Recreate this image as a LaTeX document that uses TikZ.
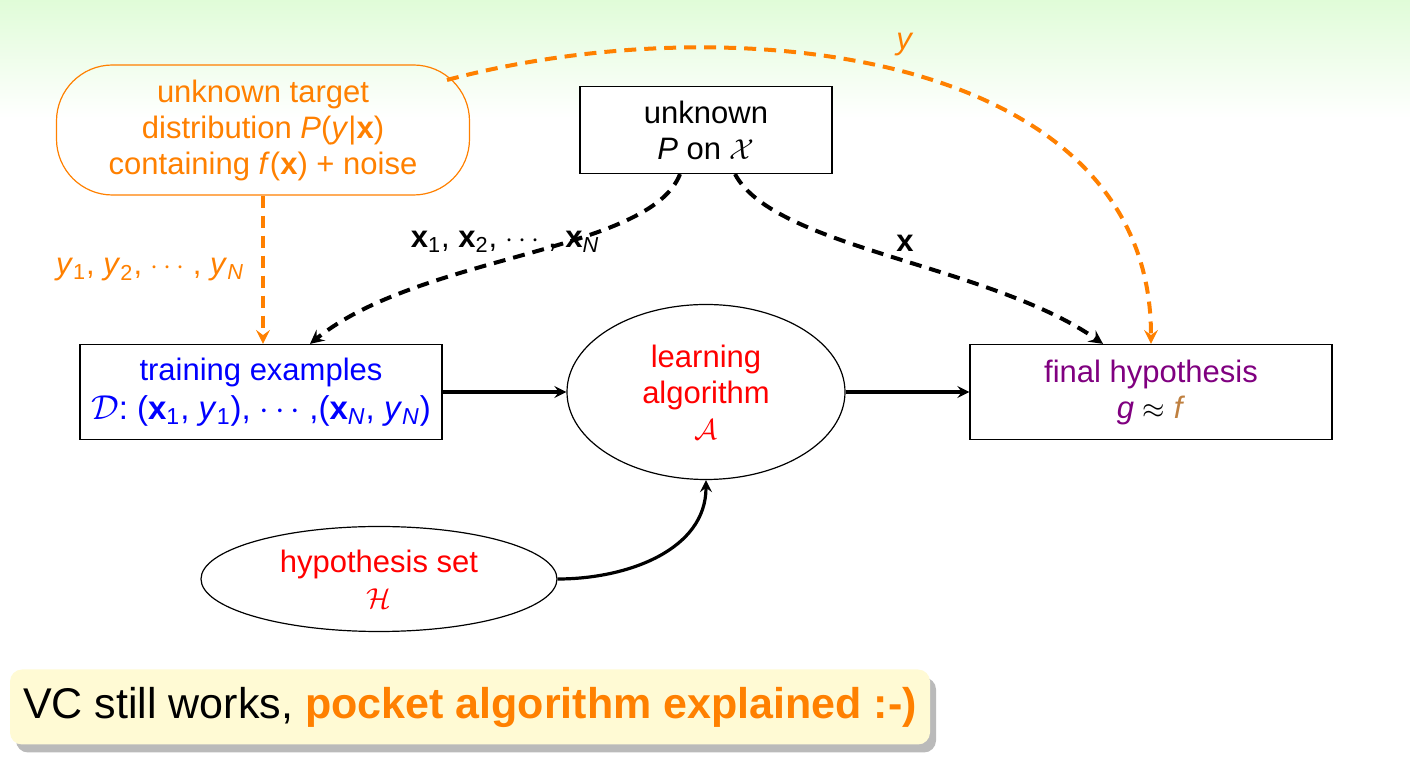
\documentclass[tikz,border=0pt]{standalone}
\usepackage{fontspec}
\setmainfont{Liberation Sans}
\usetikzlibrary{shapes.geometric,shadows}

\definecolor{topgreen}{RGB}{224,252,216}
\definecolor{notebg}{RGB}{255,250,212}

\newcommand{\vx}{\textbf{x}}
\newcommand{\vy}{\textit{y}}
\newcommand{\idx}[1]{\textsubscript{#1}}

\tikzstyle{box} = [rectangle, draw=black, line width=0.6pt, fill=white, align=center, inner sep=0pt]
\tikzstyle{oval} = [ellipse, draw=black, line width=0.6pt, fill=white, align=center, inner sep=0pt, text=red]
\tikzstyle{target} = [rectangle, rounded corners=28pt, draw=orange, line width=0.6pt, text=orange, align=center, minimum width=206.5pt, minimum height=65pt]
\tikzstyle{note} = [rectangle, rounded corners=6pt, fill=notebg, minimum width=460pt, minimum height=37.5pt, font=\fontsize{21.5}{25}\selectfont, drop shadow={shadow xshift=3pt, shadow yshift=-4pt, fill=black!45, opacity=0.6}]
\tikzstyle{arrow} = [line width=1.6pt,->,>=stealth]
\tikzstyle{dasharrow} = [line width=2pt,->,>=stealth,dash pattern=on 6pt off 4pt]

\begin{document}
\begin{tikzpicture}[x=0.5pt,y=-0.5pt,font=\fontsize{15.5}{18}\selectfont]
    \useasboundingbox (0,0) rectangle (1410,774);
    \shade[top color=topgreen,bottom color=white] (0,0) rectangle (1410,118);

    \node[target] (target) at (263,130) {unknown target\\distribution \textit{P}(\vy|\vx)\\containing \textit{f}(\vx) + noise};
    \node[box, minimum width=126pt, minimum height=43.5pt] (unk) at (706,130) {unknown\\\textit{P} on $\mathcal{X}$};
    \node[box, minimum width=181pt, minimum height=47.5pt, text=blue] (train) at (261,392) {training examples\\[1.5pt]{\fontsize{16.5}{18}\selectfont$\mathcal{D}$:\ (\vx\idx{1},\ \vy\idx{1}),\ $\cdots$\ ,(\vx\idx{\textit{N}},\ \vy\idx{\textit{N}})}};
    \node[oval, minimum width=139pt, minimum height=87.5pt] (learn) at (706,392) {learning\\algorithm\\$\mathcal{A}$};
    \node[box, minimum width=181pt, minimum height=47.5pt] (final) at (1151,392) {{\color{violet}final hypothesis}\\{\color{violet}\textit{g}} $\approx$ {\color{brown}\textit{f}}};
    \node[oval, minimum width=178pt, minimum height=52.5pt] (hyp) at (379,579) {hypothesis set\\$\mathcal{H}$};

    % labels on the dashed lines
    \node (xs) at (505,242) {\vx\idx{1},\ \vx\idx{2},\ $\cdots$\ ,\ \vx\idx{\textit{N}}};
    \node (xone) at (905,243) {\vx};
    \node[text=orange] (ys) at (150,270) {\vy\idx{1},\ \vy\idx{2},\ $\cdots$\ ,\ \vy\idx{\textit{N}}};
    \node[text=orange] (yone) at (905,45) {\vy};

    \draw [arrow] (train) -- (learn);
    \draw [arrow] (learn) -- (final);
    \draw [arrow] (hyp.east) to[out=0,in=-90] (learn.south);
    \draw [dasharrow] ([xshift=-13pt]unk.south) to[out=249,in=39,out distance=42pt,in distance=71pt] ([xshift=24.5pt]train.north);
    \draw [dasharrow] ([xshift=14.5pt]unk.south) to[out=-62,in=145,out distance=42pt,in distance=69pt] ([xshift=-24pt]final.north);
    \draw [dasharrow, orange] (target.south) -- (target.south |- train.north);
    \coordinate (ystart) at (447,80);
    \draw [dasharrow, orange] (ystart) to[out=15,in=90] (final.north);

    \node[note] (vc) at (470,707) {VC still works, \textcolor{orange}{\bfseries pocket algorithm explained :-)}};
\end{tikzpicture}
\end{document}
